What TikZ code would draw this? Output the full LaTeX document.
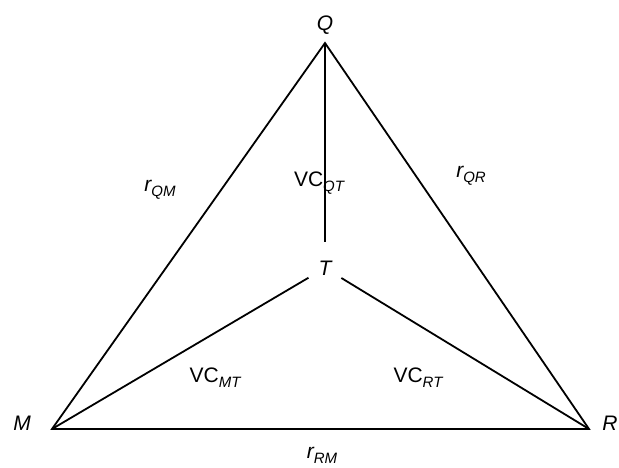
\documentclass[tikz,border=0pt]{standalone}
\usepackage{fontspec}
\setmainfont{Liberation Sans}
\newcommand{\lowsub}[1]{\raisebox{-5pt}{\fontsize{15}{17}\selectfont\itshape #1}}
\begin{document}
\begin{tikzpicture}[
    x=1pt, y=-1pt,
    every node/.style={font=\fontsize{21}{25}\selectfont, inner sep=0pt},
    edge/.style={line width=1.8pt}
  ]
  \useasboundingbox (0,0) rectangle (619,467);
  \coordinate (q) at (325,43);
  \coordinate (m) at (52,429);
  \coordinate (r) at (589,429);
  \node (Q) at (325,25) {\itshape Q};
  \node (M) at (22,423) {\itshape M};
  \node (R) at (610,423) {\itshape R};
  \node (T) [circle, minimum size=38pt] at (325,268) {\itshape T};
  \draw[edge, line join=miter] (q) -- (m) -- (r) -- cycle;
  \draw[edge, shorten >=7pt] (q) -- (T);
  \draw[edge] (T) -- (m);
  \draw[edge] (T) -- (r);
  \node (rQM) at (160,190) {\itshape r\lowsub{QM}};
  \node (rQR) at (471,176) {\itshape r\lowsub{QR}};
  \node (rRM) at (322,455) {\itshape r\lowsub{RM}};
  \node (VCQT) at (319,183) {VC\lowsub{QT}};
  \node (VCMT) at (215,378) {VC\lowsub{MT}};
  \node (VCRT) at (418,378) {VC\lowsub{RT}};
\end{tikzpicture}
\end{document}
